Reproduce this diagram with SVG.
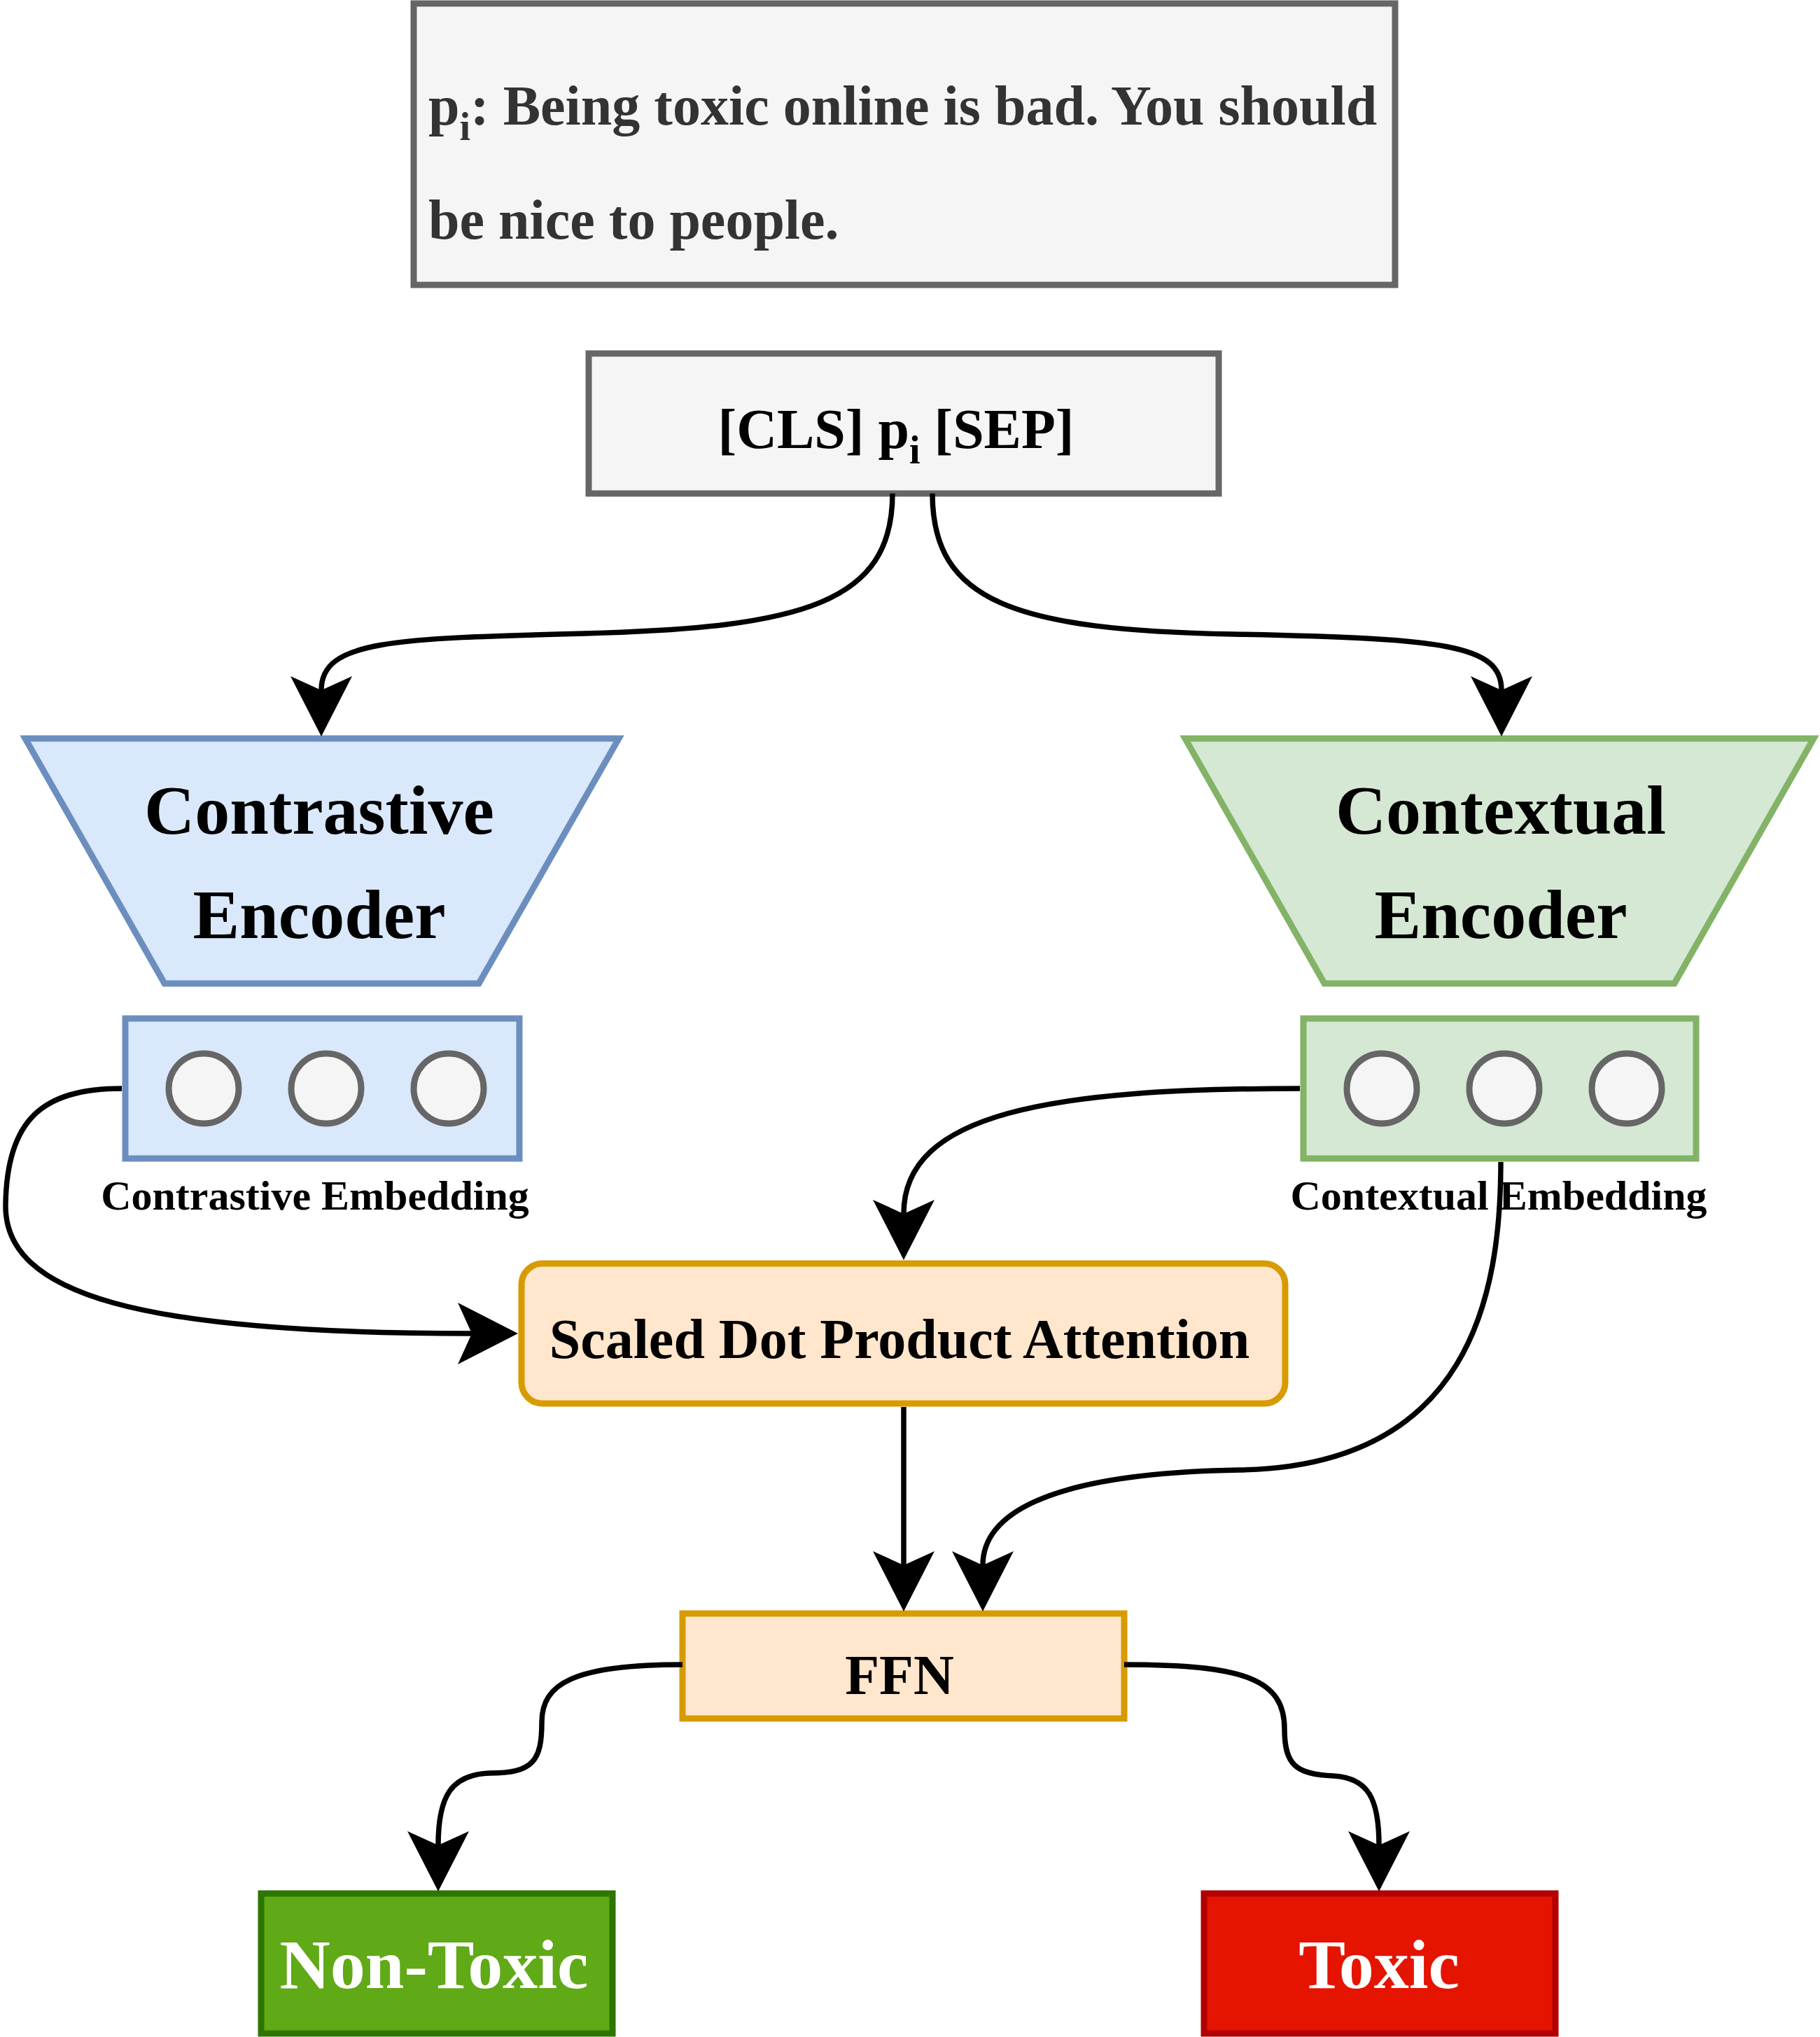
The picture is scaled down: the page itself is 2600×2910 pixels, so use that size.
<svg xmlns="http://www.w3.org/2000/svg" width="2600" height="2910" viewBox="0 0 2600 2910">
  <style>
    .t { font-family: "Liberation Serif", "Times New Roman", serif; font-weight: bold; }
    .gray { fill: #f5f5f5; stroke: #666666; stroke-width: 9; }
    .blue { fill: #dae8fc; stroke: #6c8ebf; stroke-width: 9; }
    .green { fill: #d5e8d4; stroke: #82b366; stroke-width: 9; }
    .orange { fill: #ffe6cc; stroke: #d79b00; stroke-width: 9; }
    .dot { fill: #f5f5f5; stroke: #666666; stroke-width: 9; }
    .edge { fill: none; stroke: #000000; stroke-width: 7.5; marker-end: url(#arrow); }
  </style>
  <defs>
    <marker id="arrow" markerUnits="userSpaceOnUse" markerWidth="90" markerHeight="90" viewBox="0 -45 90 90" refX="20" refY="0" orient="auto" overflow="visible">
      <path d="M0,-44 L86,0 L0,44 L20,0 Z" fill="#000000"/>
    </marker>
  </defs>
  <rect width="2600" height="2910" fill="#ffffff"/>

  <g id="sentence">
    <rect class="gray" x="591" y="5" width="1402" height="402"/>
    <text class="t" x="612" y="178" font-size="80" fill="#333333">p<tspan font-size="56" dy="22">i</tspan><tspan dy="-22">: Being toxic online is bad. You should</tspan></text>
    <text class="t" x="612" y="341" font-size="80" fill="#333333">be nice to people.</text>
  </g>

  <g id="input">
    <rect class="gray" x="841" y="505" width="900" height="200"/>
    <text class="t" x="1280" y="640" font-size="80" fill="#000000" text-anchor="middle">[CLS] p<tspan font-size="56" dy="22">i</tspan><tspan dy="-22"> [SEP]</tspan></text>
  </g>

  <g id="contrastive-encoder">
    <polygon class="blue" points="36,1055 884,1055 684,1405 235,1405"/>
    <text class="t" x="456" y="1191" font-size="100" text-anchor="middle">Contrastive</text>
    <text class="t" x="456" y="1340" font-size="100" text-anchor="middle">Encoder</text>
  </g>

  <g id="contextual-encoder">
    <polygon class="green" points="1693,1055 2591,1055 2392,1405 1892,1405"/>
    <text class="t" x="2144" y="1191" font-size="100" text-anchor="middle">Contextual</text>
    <text class="t" x="2144" y="1340" font-size="100" text-anchor="middle">Encoder</text>
  </g>

  <g id="contrastive-embedding">
    <rect class="blue" x="179" y="1455" width="563" height="200"/>
    <ellipse class="dot" cx="291" cy="1555" rx="50" ry="50"/>
    <ellipse class="dot" cx="466" cy="1555" rx="50" ry="50"/>
    <ellipse class="dot" cx="641" cy="1555" rx="50" ry="50"/>
    <text class="t" x="450" y="1728" font-size="60" text-anchor="middle">Contrastive Embedding</text>
  </g>

  <g id="contextual-embedding">
    <rect class="green" x="1862" y="1455" width="561" height="200"/>
    <ellipse class="dot" cx="1974" cy="1555" rx="50" ry="50"/>
    <ellipse class="dot" cx="2149" cy="1555" rx="50" ry="50"/>
    <ellipse class="dot" cx="2324" cy="1555" rx="50" ry="50"/>
    <text class="t" x="2141" y="1728" font-size="60" text-anchor="middle">Contextual Embedding</text>
  </g>

  <g id="attention">
    <rect class="orange" x="745" y="1805" width="1091" height="200" rx="30" ry="30"/>
    <text class="t" x="1285" y="1940" font-size="80" text-anchor="middle">Scaled Dot Product Attention</text>
  </g>

  <g id="ffn">
    <rect class="orange" x="975" y="2305" width="631" height="150"/>
    <text class="t" x="1285" y="2420" font-size="80" text-anchor="middle">FFN</text>
  </g>

  <g id="non-toxic">
    <rect x="373" y="2705" width="502" height="200" fill="#60a917" stroke="#2d7600" stroke-width="9"/>
    <text class="t" x="620" y="2840" font-size="100" fill="#ffffff" text-anchor="middle">Non-Toxic</text>
  </g>

  <g id="toxic">
    <rect x="1720" y="2705" width="502" height="200" fill="#e51400" stroke="#b20000" stroke-width="9"/>
    <text class="t" x="1970" y="2840" font-size="100" fill="#ffffff" text-anchor="middle">Toxic</text>
  </g>

  <g id="connectors">
    <path class="edge" d="M1275,705 C1275,860 1150,897 835,905 C560,912 459,915 459,986"/>
    <path class="edge" d="M1332,705 C1332,860 1450,900 1763,906 C2060,912 2145,920 2145,986"/>
    <path class="edge" d="M174,1555 C60,1555 10,1600 8,1720 C5,1850 200,1905 674,1905"/>
    <path class="edge" d="M1857,1555 C1500,1555 1291,1590 1291,1734"/>
    <path class="edge" d="M2144,1660 C2144,1850 2100,2095 1770,2100 C1480,2105 1404,2170 1404,2236"/>
    <path class="edge" d="M1291,2010 L1291,2236"/>
    <path class="edge" d="M975,2378 C820,2378 774,2405 774,2460 C774,2515 762,2533 700,2533 C645,2535 626,2565 626,2636"/>
    <path class="edge" d="M1606,2378 C1780,2378 1835,2400 1835,2470 C1835,2520 1850,2535 1905,2537 C1955,2540 1970,2570 1970,2636"/>
  </g>
</svg>
